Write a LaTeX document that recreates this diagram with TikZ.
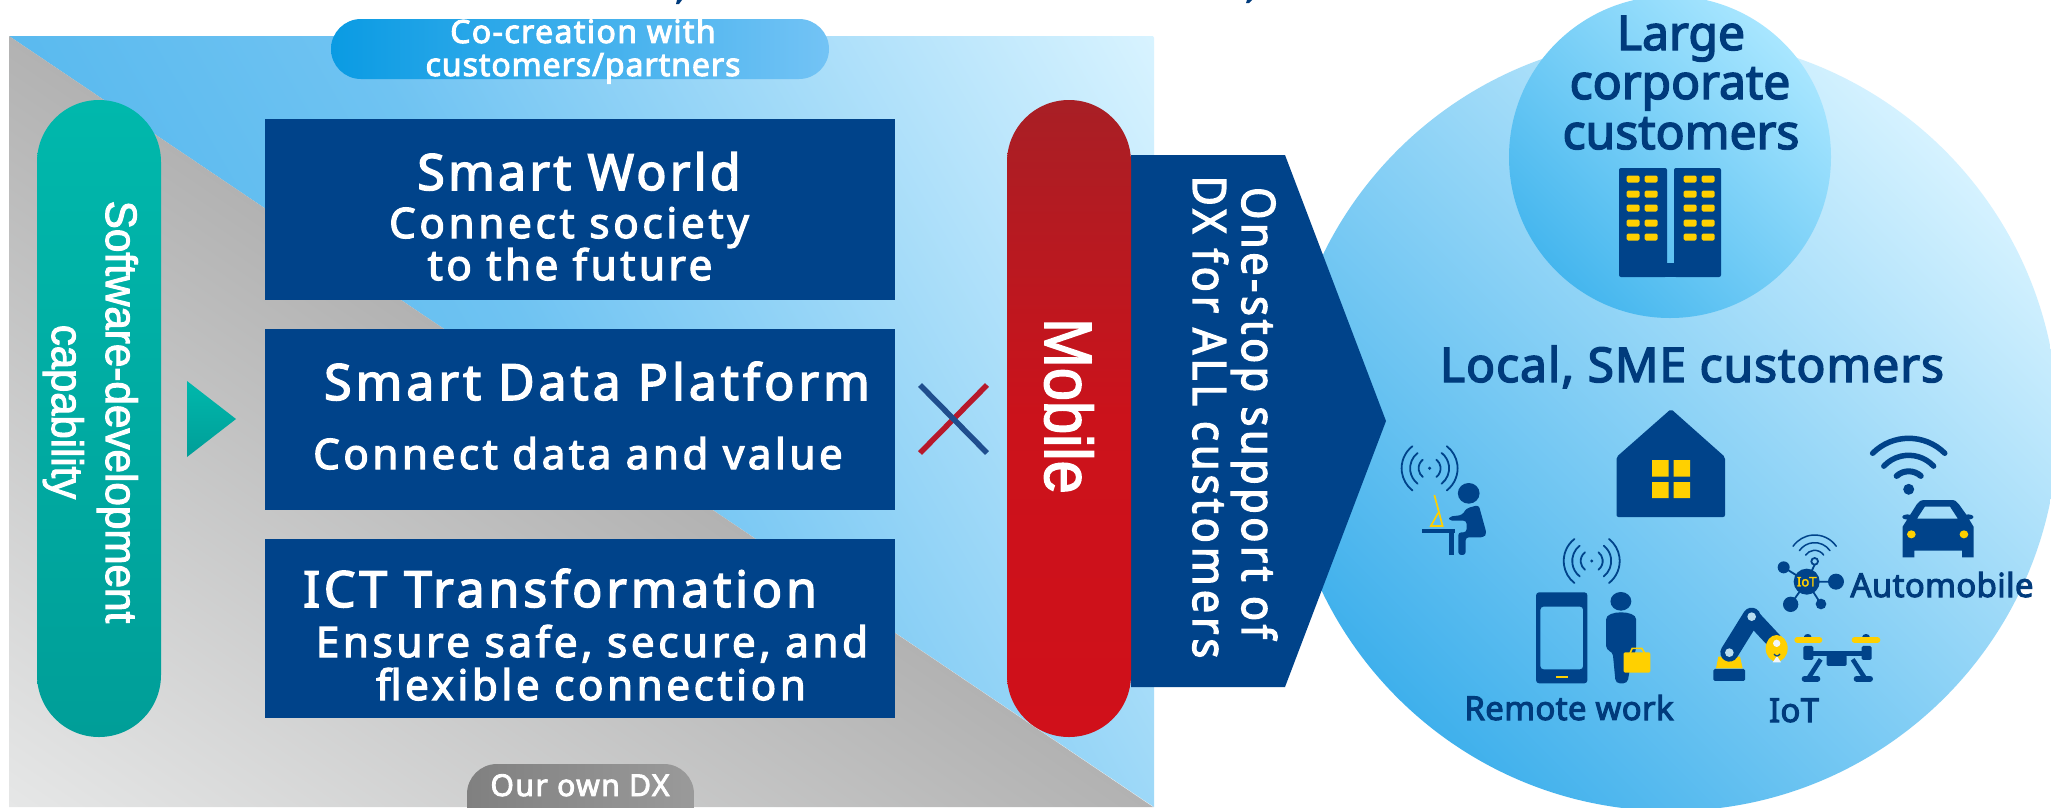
\documentclass[tikz,border=0pt]{standalone}
\usepackage{fontspec}
\setmainfont{Noto Sans}
\newfontfamily\nbold[FakeBold=3]{Noto Sans}
\newfontfamily\arialf[FakeBold=2.4]{Liberation Sans}
\usetikzlibrary{calc}
\definecolor{navy}{HTML}{00438A}
\definecolor{inkblue}{HTML}{003B7C}
\definecolor{gold}{HTML}{FFD000}
\definecolor{HTMLa}{HTML}{3FB0EC}\definecolor{HTMLb}{HTML}{D5F2FF}
\definecolor{HTMLc}{HTML}{45B6EE}\definecolor{HTMLd}{HTML}{A8E6FF}
\definecolor{HTMLe}{HTML}{3FAEEA}\definecolor{HTMLf}{HTML}{6FC3F2}\definecolor{HTMLg}{HTML}{D8F3FF}
\definecolor{HTMLh}{HTML}{E6E7E7}\definecolor{HTMLi}{HTML}{B2B2B2}
\definecolor{HTMLk}{HTML}{0A9BE3}\definecolor{HTMLl}{HTML}{73C3F5}
\definecolor{HTMLm}{HTML}{808080}\definecolor{HTMLn}{HTML}{9A9A9A}
\definecolor{HTMLo}{HTML}{00B8AC}\definecolor{HTMLp}{HTML}{009E98}
\definecolor{HTMLq}{HTML}{A81F25}\definecolor{HTMLr}{HTML}{CB121B}\definecolor{HTMLs}{HTML}{D0101A}
\definecolor{HTMLt}{HTML}{B7192B}\definecolor{HTMLu}{HTML}{1F4E8E}
\definecolor{HTMLv}{HTML}{B8DDF0}\definecolor{HTMLw}{HTML}{F2F6FA}
\newcommand\txtset[3]{\nbold\fontsize{#1}{#1}\selectfont\addfontfeature{LetterSpace=#2}#3}
\newcommand\waves[2]{%
  \foreach \rr in {11,19.5,28}{%
    \draw[wave] (#1,#2) ++(-52:\rr pt) arc[start angle=-52,end angle=52,radius=\rr pt];
    \draw[wave] (#1,#2) ++(128:\rr pt) arc[start angle=128,end angle=232,radius=\rr pt];
  }
  \fill[navy] (#1,#2) circle[radius=1.7pt];
}
\tikzset{
  x=1pt,y=-1pt,
  wave/.style={navy,line width=1.8pt,line cap=round},
  wtxt/.style={text=white,inner sep=0pt,anchor=base},
  btxt/.style={text=inkblue,inner sep=0pt,anchor=base},
  panel/.style={fill=navy},
  zoomthree/.style={shift={(1370,400)},xscale=.4348,yscale=.3333},
  zoomseven/.style={shift={(1700,520)},scale=.3333},
}
\begin{document}
\begin{tikzpicture}
\useasboundingbox (0,0) rectangle (2051,807);
\clip (0,0) rectangle (2051,807);
\fill[white] (0,0) rectangle (2051,807);
% circles
\shade[bottom color=HTMLa,top color=HTMLb,shading angle=-45] (1671,424) circle[radius=387pt];
\shade[bottom color=HTMLc,top color=HTMLd,shading angle=-45] (1670,157) circle[radius=161pt];
% background
\begin{scope}
\clip (9,36) -- (1154,36) -- (1154,807) -- cycle;
\begin{scope}[transform canvas={rotate around={30:(605,463)}}]
\shade[left color=HTMLe,right color=HTMLg,middle color=HTMLf] (605-688,463-1200) rectangle (605+688,463+1200);
\end{scope}
\end{scope}
\begin{scope}
\clip (9,36) -- (1154,807) -- (9,807) -- cycle;
\begin{scope}[transform canvas={rotate around={56:(188,542)}}]
\shade[left color=HTMLh,right color=HTMLi] (188-320,542-1200) rectangle (188+320,542+1200);
\end{scope}
\end{scope}
% pills
\shade[left color=HTMLk,right color=HTMLl,rounded corners=30pt] (331,19) rectangle (829,79);
\shade[left color=HTMLm,right color=HTMLn,rounded corners=30pt] (467,764) rectangle (694,860);
\shade[top color=HTMLo,bottom color=HTMLp,rounded corners=62pt] (37,100) rectangle (161,737);
\shade[top color=HTMLo,bottom color=HTMLp] (187,381) -- (236,419) -- (187,457) -- cycle;
% arrow
\fill[panel] (1131,155) -- (1285,155) -- (1386,421) -- (1285,687) -- (1131,687) -- cycle;
\shade[top color=HTMLq,bottom color=HTMLs,middle color=HTMLr,rounded corners=62pt] (1007,100) rectangle (1131,737);
% boxes
\fill[panel] (265,119) rectangle (895,300);
\fill[panel] (265,329) rectangle (895,510);
\fill[panel] (265,539) rectangle (895,718);
% cross
\coordinate (crossa) at (920,453); \coordinate (crossb) at (987,385);
\coordinate (crossc) at (920,385); \coordinate (crossd) at (987,453);
\draw[HTMLt,line width=5.5pt] (crossa) -- (crossb);
\draw[HTMLu,line width=5.5pt] (crossc) -- (crossd);
% texts
\node[wtxt] (cocreatea) at (583,43) {\txtset{32}{4.4}{Co-creation with}};
\node[wtxt] (cocreateb) at (583,76) {\txtset{32}{3}{customers/partners}};
\node[wtxt] (ownDX) at (580,796) {\txtset{30}{5}{Our own DX}};
\node[wtxt] (swa) at (579,190) {\txtset{50}{6.5}{Smart World}};
\node[wtxt] (swb) at (569,238) {\txtset{42}{9}{Connect society}};
\node[wtxt] (swc) at (570,280) {\txtset{42}{8.5}{to the future}};
\node[wtxt] (sda) at (597,400) {\txtset{50}{8}{Smart Data Platform}};
\node[wtxt] (sdb) at (578,469) {\txtset{42}{8.6}{Connect data and value}};
\node[wtxt] (icta) at (560,607) {\txtset{50}{7.7}{ICT Transformation}};
\node[wtxt] (ictb) at (592,657) {\txtset{42}{8.8}{Ensure safe, secure, and}};
\node[wtxt] (ictc) at (591,700) {\txtset{42}{8.7}{flexible connection}};
\node[text=white,inner sep=0pt,anchor=base,rotate=-90,xscale=.96] (softa) at (106,412) {\arialf\fontsize{44}{44}\selectfont Software-development};
\node[text=white,inner sep=0pt,anchor=base,rotate=-90,xscale=.95] (softb) at (52,412) {\arialf\fontsize{44}{44}\selectfont capability};
\node[text=white,inner sep=0pt,anchor=base,rotate=-90,xscale=.89] (mobile) at (1045,406) {\arialf\fontsize{67}{67}\selectfont Mobile};
\node[wtxt,rotate=-90,xscale=.9] (dxa) at (1242,413) {\txtset{46}{8.7}{One-stop support of}};
\node[wtxt,rotate=-90,xscale=.9] (dxb) at (1193,417) {\txtset{46}{10}{DX for ALL customers}};
\node[btxt] (largea) at (1681,50) {\txtset{48}{0}{Large}};
\node[btxt] (largeb) at (1680,99) {\txtset{48}{0}{corporate}};
\node[btxt] (largec) at (1681,149) {\txtset{48}{0}{customers}};
\node[btxt] (local) at (1692,382) {\txtset{48}{2}{Local, SME customers}};
\node[btxt] (auto) at (1942,597) {\txtset{33}{1}{Automobile}};
\node[btxt] (remote) at (1569,720) {\txtset{33}{1}{Remote work}};
\node[btxt] (iot) at (1794,722) {\txtset{33}{1}{IoT}};
% clipped marks at top
\fill[inkblue] (677,0) -- (682,0) -- (679,4) -- (676,4) -- cycle;
\fill[inkblue] (1247,0) -- (1252,0) -- (1249,3) -- (1246,3) -- cycle;
% building
\fill[navy,rounded corners=2pt] (1619,168) rectangle (1667,277);
\fill[navy,rounded corners=2pt] (1674,168) rectangle (1721,277);
\fill[navy] (1660,263) rectangle (1680,277);
\foreach \yy in {179,194,208,223,237}{\foreach \xx in {1633,1651,1690,1708}{
  \fill[gold,rounded corners=1.5pt] (\xx-6.5,\yy-3.5) rectangle (\xx+6.5,\yy+3.5);}}
% house
\fill[navy,rounded corners=2pt] (1671,409) -- (1725,457) -- (1725,517) -- (1616.5,517) -- (1616.5,457) -- cycle;
\fill[gold] (1652,460) rectangle (1668.5,476.5) (1673.5,460) rectangle (1690,476.5)
            (1652,482) rectangle (1668.5,498) (1673.5,482) rectangle (1690,498);
% waves
\waves{1429.6}{468.3}
\waves{1591.7}{561}
\begin{scope}[zoomthree]
% person at desk
\fill[navy] (227,280) ellipse[x radius=25pt,y radius=31pt];
\fill[navy,rounded corners=3pt] (222,325) -- (250,315) -- (268,400) -- (262,412) -- (220,412) -- (220,465) -- (203,465) -- (203,397) -- (222,397) -- (222,362) -- (182,362) -- (182,350) -- (212,345) -- cycle;
\fill[navy] (120,387) rectangle (195,398);
\fill[navy] (182,387) rectangle (194,465);
\draw[gold,line width=1.7pt] (148,285) -- (167,378) -- (140,378) -- (157,338);
% car
\fill[navy,even odd rule] (1242,345) -- (1258,312) .. controls (1262,303) and (1268,300) .. (1278,300) -- (1335,300) .. controls (1345,300) and (1350,303) .. (1354,312) -- (1372,345) -- (1388,380) -- (1388,472) -- (1362,472) -- (1362,452) -- (1252,452) -- (1252,472) -- (1225,472) -- (1225,380) -- cycle
  (1258,356) -- (1352,356) -- (1334,320) -- (1276,320) -- cycle;
\fill[navy] (1236,351) ellipse[x radius=12pt,y radius=8pt];
\fill[navy] (1376,351) ellipse[x radius=12pt,y radius=8pt];
\fill[gold] (1245,403) ellipse[x radius=10pt,y radius=12pt];
\fill[gold] (1366,403) ellipse[x radius=10pt,y radius=12pt];
% phone
\fill[navy,even odd rule,rounded corners=3pt] (382,577) rectangle (500,850) (392,620) rectangle (490,808);
\fill[gold] (427,827) rectangle (455,834);
% person with bag
\fill[navy] (577,604) ellipse[x radius=24pt,y radius=28pt];
\fill[navy,rounded corners=4pt] (543,750) -- (543,670) .. controls (543,630) and (612,630) .. (612,670) -- (612,750) -- (600,790) -- (592,850) -- (565,850) -- (558,755) -- cycle;
\draw[gold,line width=1.6pt] (598,760) -- (603,745) -- (625,745) -- (632,760);
\fill[gold,rounded corners=2pt] (583,757) rectangle (645,818);
\end{scope}
% wifi above car
\coordinate (wific) at (1908.7,489.3);
\fill[navy] (wific) ellipse[x radius=5.5pt,y radius=5.5pt];
\foreach \rr/\aa/\ww in {18/42/6,34/47/5.5,51/45/5.5}{
  \draw[navy,line width=\ww pt,line cap=round] (wific) ++(90-\aa:\rr pt) arc[start angle=90-\aa,end angle=90+\aa,radius=\rr pt];}
\begin{scope}[zoomseven]
% iot hub
\draw[navy,line width=1.8pt] (320,185) -- (251,142) (320,185) -- (408,185) (320,185) -- (272,253) (320,185) -- (363,252) (320,185) -- (344,134);
\fill[navy] (320,185) circle[radius=39pt];
\fill[navy] (251,142) circle[radius=18pt];
\fill[navy] (408,185) circle[radius=24pt];
\fill[navy] (272,253) circle[radius=23pt];
\fill[navy] (363,252) circle[radius=16pt];
\draw[navy,line width=1.8pt] (344,124) circle[radius=10pt];
\foreach \rr in {33,56,79}{
  \draw[navy,line width=1.5pt,line cap=round] (344,124) ++(35:\rr pt) arc[start angle=35,end angle=145,radius=\rr pt];}
% robot arm
\fill[navy,rounded corners=1.5pt] (40,447) rectangle (135,483);
\fill[gold] (55,410) -- (120,410) -- (128,445) -- (48,445) -- cycle;
\draw[navy,line width=18pt,line cap=round] (88,398) -- (155,290);
\draw[navy,line width=16pt,line cap=round] (155,290) -- (225,365);
\fill[HTMLv] (88,398) circle[radius=13pt];
\fill[HTMLv] (155,290) circle[radius=13pt];
\fill[gold] (230,385) ellipse[x radius=33pt,y radius=40pt];
\fill[HTMLw] (230,370) circle[radius=11pt];
\fill[HTMLw] (218,427) -- (243,427) -- (231,408) -- cycle;
\draw[navy,line width=1.2pt] (222,402) .. controls (228,410) and (234,410) .. (240,402);
% drone
\fill[navy] (323,350) ellipse[x radius=11pt,y radius=8pt];
\fill[navy] (498,350) ellipse[x radius=11pt,y radius=8pt];
\draw[gold,line width=6pt,line cap=round] (292,360) -- (358,360);
\draw[gold,line width=6pt,line cap=round] (464,360) -- (532,360);
\fill[navy,rounded corners=1.5pt] (310,378) rectangle (340,420);
\fill[navy,rounded corners=1.5pt] (485,378) rectangle (515,420);
\fill[navy] (335,394) rectangle (490,408);
\fill[navy,rounded corners=1.5pt] (380,405) rectangle (440,438);
\draw[navy,line width=4.5pt] (362,418) -- (327,472);
\draw[navy,line width=4.5pt] (458,418) -- (493,472);
\draw[navy,line width=6pt,line cap=round] (314,476) -- (352,476);
\draw[navy,line width=6pt,line cap=round] (470,476) -- (510,476);
\end{scope}
\node[text=gold,inner sep=0pt] (hub) at (1806.7,581.7) {\nbold\fontsize{13}{13}\selectfont IoT};
\end{tikzpicture}
\end{document}
